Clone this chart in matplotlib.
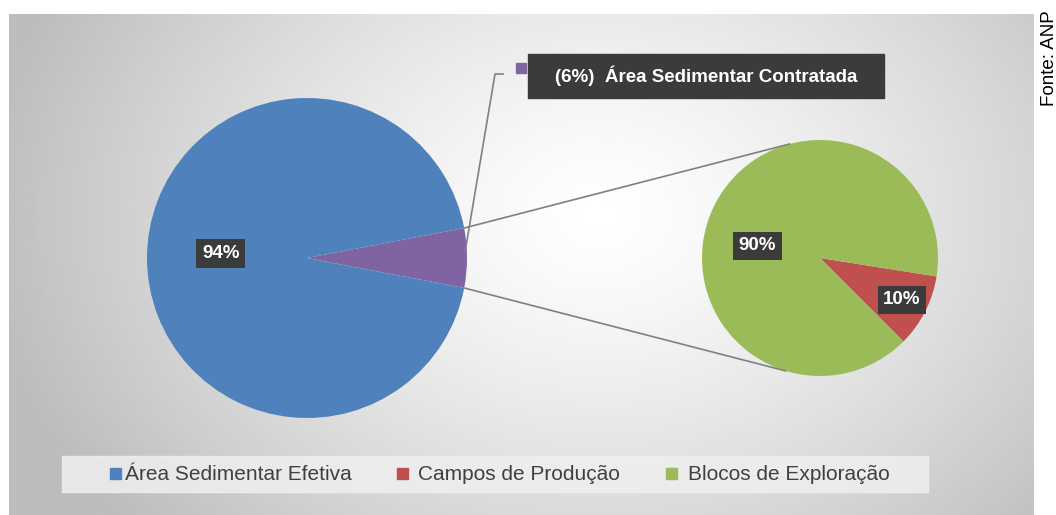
import numpy as np
import matplotlib.pyplot as plt
from matplotlib.patches import Rectangle

plt.rcParams['font.family'] = ['Liberation Sans', 'DejaVu Sans']

# dados
categorias = ['Área Sedimentar Efetiva', 'Campos de Produção', 'Blocos de Exploração']
pizza1_valores = [6, 94]          # contratada, efetiva
pizza1_cores = ['#8064A2', '#4F81BD']
pizza2_valores = [10, 90]         # campos, blocos
pizza2_cores = ['#C0504D', '#9BBB59']
rotulo_contratada = '(6%)  Área Sedimentar Contratada'
fonte = 'Fonte: ANP'

W, H = 1056, 515
fig = plt.figure(figsize=(W/100, H/100), dpi=100)
ax = fig.add_axes([0, 0, 1, 1])
ax.set_xlim(0, W)
ax.set_ylim(0, H)
ax.axis('off')

# fundo com gradiente radial
x0, x1, y0, y1 = 9, 1034, 0, 501
xx, yy = np.meshgrid(np.linspace(x0, x1, 400), np.linspace(y1, y0, 200))
d = np.sqrt((xx - 600)**2 + ((yy - 300)*1.3)**2)
g = 1.0 - 0.26*np.clip(d/620, 0, 1)**1.3
ax.imshow(g, extent=(x0, x1, y0, y1), cmap='gray', vmin=0, vmax=1, aspect='auto', zorder=0)

# pizza principal
c1 = (307, 257)
r1 = 160
ang1 = pizza1_valores[0]/100*360/2
ax.pie(pizza1_valores, colors=pizza1_cores, center=c1, radius=r1, startangle=-ang1,
       wedgeprops=dict(linewidth=0), frame=True)

# pizza secundaria
c2 = (820, 257)
r2 = 118
ax.pie(pizza2_valores, colors=pizza2_cores, center=c2, radius=r2, startangle=-45,
       wedgeprops=dict(linewidth=0), frame=True)
ax.set_xlim(0, W)
ax.set_ylim(0, H)
ax.set_aspect('equal')
ax.axis('off')

# linhas de ligacao
for a1, a2 in [(ang1, 105), (-ang1, -107)]:
    p = (c1[0] + r1*np.cos(np.radians(a1)), c1[1] + r1*np.sin(np.radians(a1)))
    q = (c2[0] + r2*np.cos(np.radians(a2)), c2[1] + r2*np.sin(np.radians(a2)))
    ax.plot([p[0], q[0]], [p[1], q[1]], color='#808080', lw=1.2, zorder=3)

caixa = dict(boxstyle='square,pad=0.3', fc='#3b3b3b', ec='none')

def rotulo(c, r, ang, frac, txt):
    x = c[0] + r*frac*np.cos(np.radians(ang))
    y = c[1] + r*frac*np.sin(np.radians(ang))
    ax.text(x, y, txt, color='white', fontsize=13.5, fontweight='bold',
            ha='center', va='center', bbox=caixa, zorder=5)

rotulo(c1, r1, 177, 0.54, '%d%%' % pizza1_valores[1])
rotulo(c2, r2, 169, 0.54, '%d%%' % pizza2_valores[1])
rotulo(c2, r2, -27, 0.78, '%d%%' % pizza2_valores[0])

# rotulo da fatia contratada
px = c1[0] + r1*0.99
py = c1[1] + 8
ax.plot([px, 495, 503], [py, H - 74, H - 74], color='#808080', lw=1.2, zorder=3)
ax.add_patch(Rectangle((516, H - 73), 10, 10, color=pizza1_cores[0], zorder=4))
ax.add_patch(Rectangle((528, H - 98), 356, 44, color='#3b3b3b', zorder=4))
ax.text(706, H - 76, rotulo_contratada, color='white', fontsize=13.5, fontweight='bold',
        ha='center', va='center', zorder=5)

# legenda
ax.add_patch(Rectangle((62, H - 492), 866, 36, color='#efefef', alpha=0.85, zorder=2))
leg_x = [110, 397, 666]
leg_txt = [125, 418, 688]
leg_cores = [pizza1_cores[1], pizza2_cores[0], pizza2_cores[1]]
for lx, tx, cor, nome in zip(leg_x, leg_txt, leg_cores, categorias):
    ax.add_patch(Rectangle((lx, H - 479), 11, 11, color=cor, zorder=3))
    ax.text(tx, H - 474, nome, color='#404040', fontsize=15,
            ha='left', va='center', zorder=3)

fig.text(1049/W, 1 - 58/H, fonte, rotation=90, fontsize=13.5, ha='center', va='center')

fig.savefig('out.png', dpi=100)
